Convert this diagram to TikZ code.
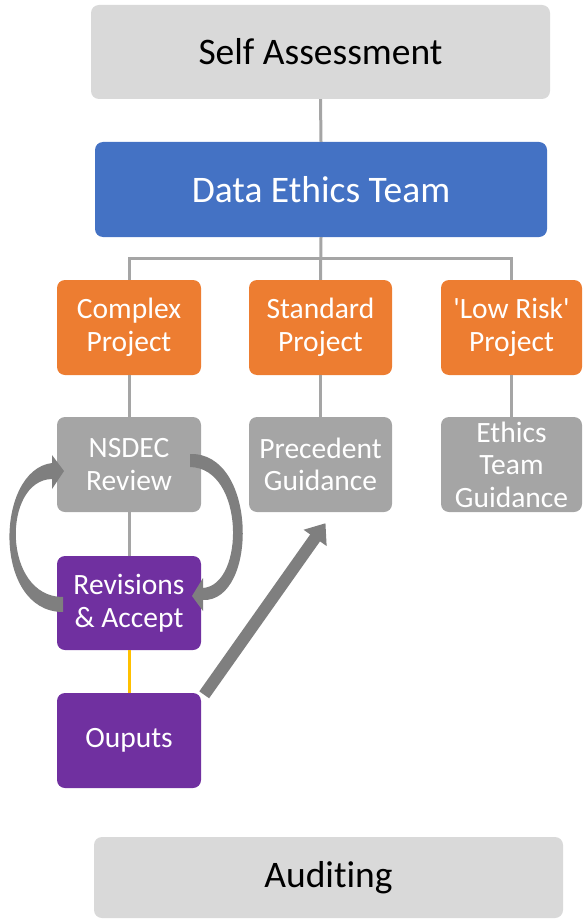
\documentclass[tikz,border=0pt]{standalone}
\usepackage{fontspec}
\setmainfont{Carlito}[Ligatures=NoCommon]
\usetikzlibrary{arrows.meta}

\definecolor{lightbox}{HTML}{D9D9D9}
\definecolor{teamblue}{HTML}{4472C4}
\definecolor{projorange}{HTML}{ED7D31}
\definecolor{guidegray}{HTML}{A5A5A5}
\definecolor{revpurple}{HTML}{7030A0}
\definecolor{linkyellow}{HTML}{FFC000}
\definecolor{arrowgray}{HTML}{7F7F7F}

\tikzset{
    box/.style={rectangle,rounded corners=8pt,inner sep=0pt,align=center,text=white,
        minimum width=144pt,minimum height=95pt,font=\fontsize{29.5}{32.5}\selectfont},
    bigbox/.style={box,font=\fontsize{37.5}{40}\selectfont},
    conn/.style={draw=guidegray,line width=3pt},
}

\begin{document}
\begin{tikzpicture}[x=1pt,y=-1pt]
            \useasboundingbox (0,0) rectangle (582,920);

            % top of the chain
            \node[bigbox,fill=lightbox,text=black,minimum width=459pt,minimum height=94pt] (self) at (320.5,52) {Self Assessment};
            \node[bigbox,fill=teamblue,minimum width=452pt] (team) at (321,189.5) {Data Ethics Team};

            % project types
            \node[box,fill=projorange] (complex) at (129,327.5) {Complex\\Project};
            \node[box,fill=projorange,minimum width=143pt] (standard) at (320.5,327.5) {Standard\\Project};
            \node[box,fill=projorange,minimum width=141pt] (lowrisk) at (511.5,327.5) {\textquotesingle Low Risk\textquotesingle\\Project};

            % review / guidance
            \node[box,fill=guidegray] (review) at (129,464.5) {NSDEC\\Review};
            \node[box,fill=guidegray,minimum width=143pt] (precedent) at (320.5,464.5) {Precedent\\Guidance};
            \node[box,fill=guidegray,minimum width=141pt] (teamguide) at (511.5,464.5) {Ethics\\Team\\Guidance};

            \node[box,fill=revpurple,minimum height=94pt] (revise) at (129,603) {Revisions\\\& Accept};
            \node[box,fill=revpurple] (outputs) at (129,740.5) {Ouputs};

            \node[bigbox,fill=lightbox,text=black,minimum width=469pt,minimum height=81pt] (audit) at (328.5,877.5) {Auditing};

            % connectors
            \coordinate (bus) at (320.5,258);
            \draw[conn] (self.south) -- (team.north);
            \draw[conn] (team.south) -- (standard.north);
            \draw[conn] (complex.north) |- (bus) -| (lowrisk.north);
            \draw[conn] (complex.south) -- (review.north);
            \draw[conn] (standard.south) -- (precedent.north);
            \draw[conn] (lowrisk.south) -- (teamguide.north);
            \draw[conn] (review.south) -- (revise.north);
            \draw[draw=linkyellow,line width=3pt] (revise.south) -- (outputs.north);

            % review loop
            \fill[arrowgray] (63,612) .. controls (-8,612) and (-5,470) .. (52,463)
                -- (52,455) -- (64,471) -- (52,489) -- (52,479)
                .. controls (2,480) and (2,597) .. (63,597) -- cycle;
            \fill[arrowgray] (190,454) .. controls (258,452) and (258,602) .. (203,600)
                -- (203,611) -- (192,596) -- (203,578) -- (203,588)
                .. controls (245,585) and (245,468) .. (190,467) -- cycle;

            % outputs feed precedent
            \draw[arrowgray,line width=12pt,-{Triangle[width=27pt,length=18pt]}]
                ([shift={(3,2)}]outputs.north east) -- ([shift={(5,11)}]precedent.south);

\end{tikzpicture}
\end{document}
